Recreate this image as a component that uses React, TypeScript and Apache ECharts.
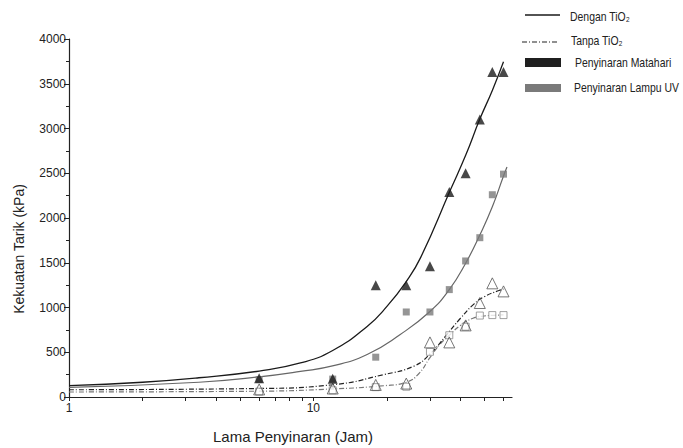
import React, { useEffect, useRef } from "react";
import * as echarts from "echarts";

// Measured data (hours of irradiation vs tensile strength, kPa)
const hours = [6, 12, 18, 24, 30, 36, 42, 48, 54, 60];
const sunTiO2 = [210, 205, 1250, 1250, 1460, 2290, 2500, 3100, 3630, 3630];
const uvTiO2 = [195, 200, 445, 950, 950, 1200, 1520, 1780, 2260, 2490];
const sunNoTiO2 = [85, 95, 135, 150, 610, 610, 800, 1050, 1270, 1180];
const uvNoTiO2 = [60, 75, 110, 115, 505, 690, 785, 910, 915, 915];

// Fitted curves
const sunFitX = [1, 2, 3.4, 6, 8.85, 12, 16.6, 20, 24, 27.5, 36.4, 42, 48, 54, 60];
const sunFitY = [126, 165, 215, 290, 380, 520, 789, 1012, 1290, 1560, 2315, 2700, 3105, 3425, 3745];
const uvFitX = [1, 3.4, 6, 8.85, 12.1, 16.6, 22.6, 30, 36, 42, 48, 54, 60, 62];
const uvFitY = [107, 165, 225, 286, 350, 475, 696, 956, 1200, 1495, 1810, 2125, 2470, 2570];
const sunNoFitX = [1, 6, 12, 19.4, 25.8, 30, 35, 40, 45.5, 50, 57.5, 60];
const sunNoFitY = [81, 95, 137, 250, 345, 480, 690, 880, 1040, 1120, 1190, 1205];
const uvNoFitX = [1, 6, 12, 19.4, 24, 27, 30, 33, 36, 40, 45, 50, 55, 60];
const uvNoFitY = [56, 65, 90, 126, 165, 260, 440, 590, 690, 800, 880, 905, 913, 918];

const xTicks = [1, 2, 3, 4, 5, 6, 7, 8, 9, 10, 20, 30, 40, 50, 60];
const xLabels = [1, 10];

const legendItems = ["Dengan TiO₂", "Tanpa TiO₂", "Penyinaran Matahari", "Penyinaran Lampu UV"];

const FONT = "'Liberation Sans', Arial, sans-serif";

const zip = (xs: number[], ys: number[]) => xs.map((x, i) => [x, ys[i]]);

export default function App() {
  const ref = useRef<HTMLDivElement>(null);
  useEffect(() => {
    const chart = echarts.init(ref.current!, null, { renderer: "svg" });
    const dashDot = [5, 2, 1, 2];
    const fitLine = (xs: number[], ys: number[], color: string, width: number, type: any) => ({
      type: "line",
      data: zip(xs, ys),
      smooth: 0.5,
      showSymbol: false,
      lineStyle: { color, width, type },
      z: 1,
    });
    const legendText = (text: string, x: number, y: number) => ({
      type: "text",
      x,
      y,
      scaleX: 0.87,
      style: { text, fontFamily: FONT, fontSize: 12, fill: "#222", verticalAlign: "middle" },
    });
    chart.setOption({
      animation: false,
      backgroundColor: "#fff",
      grid: { left: 69, right: 171, top: 39, bottom: 51 },
      xAxis: {
        type: "log",
        logBase: 10,
        min: 1,
        max: 65,
        axisLine: { show: true, lineStyle: { color: "#222", width: 1.2 } },
        axisTick: { show: true, inside: false, length: 4, customValues: xTicks, lineStyle: { color: "#222" } },
        axisLabel: {
          customValues: xLabels,
          color: "#222",
          fontFamily: FONT,
          fontSize: 12,
          margin: 5,
        },
        splitLine: { show: false },
        minorTick: { show: false },
      },
      yAxis: {
        type: "value",
        min: 0,
        max: 4000,
        interval: 500,
        axisLine: { show: true, lineStyle: { color: "#222", width: 1.2 } },
        axisTick: { show: true, length: 5, lineStyle: { color: "#222" } },
        minorTick: { show: true, splitNumber: 2, length: 3, lineStyle: { color: "#222" } },
        axisLabel: {
          color: "#222",
          fontFamily: FONT,
          fontSize: 12,
          margin: 3,
          formatter: (v: number) => String(v),
        },
        splitLine: { show: false },
      },
      series: [
        fitLine(uvNoFitX, uvNoFitY, "#777", 1.2, dashDot),
        fitLine(sunNoFitX, sunNoFitY, "#222", 1.2, dashDot),
        fitLine(uvFitX, uvFitY, "#666", 1.2, "solid"),
        fitLine(sunFitX, sunFitY, "#1a1a1a", 1.3, "solid"),
        {
          type: "scatter",
          data: zip(hours, uvNoTiO2),
          symbol: "rect",
          symbolSize: 7,
          itemStyle: { color: "#fff", borderColor: "#888", borderWidth: 1 },
          z: 3,
        },
        {
          type: "scatter",
          data: zip(hours, sunNoTiO2),
          symbol: "triangle",
          symbolSize: 11,
          itemStyle: { color: "rgba(255,255,255,0)", borderColor: "#555", borderWidth: 1 },
          z: 4,
        },
        {
          type: "scatter",
          data: zip(hours, uvTiO2),
          symbol: "rect",
          symbolSize: 7,
          itemStyle: { color: "#7a7a7a" },
          z: 5,
        },
        {
          type: "scatter",
          data: zip(hours, sunTiO2),
          symbol: "triangle",
          symbolSize: 10,
          itemStyle: { color: "#1a1a1a" },
          z: 6,
        },
      ],
      graphic: [
        {
          type: "text",
          x: 19,
          y: 249,
          rotation: Math.PI / 2,
          style: {
            text: "Kekuatan Tarik (kPa)",
            fontFamily: FONT,
            fontSize: 14,
            fill: "#222",
            align: "center",
            verticalAlign: "middle",
          },
        },
        {
          type: "text",
          x: 293,
          y: 436,
          style: {
            text: "Lama Penyinaran (Jam)",
            fontFamily: FONT,
            fontSize: 15,
            fill: "#222",
            align: "center",
            verticalAlign: "middle",
          },
        },
        { type: "line", shape: { x1: 525, y1: 15, x2: 560, y2: 15 }, style: { stroke: "#1a1a1a", lineWidth: 1.3 } },
        legendText(legendItems[0], 570, 17),
        {
          type: "line",
          shape: { x1: 522, y1: 42, x2: 558, y2: 42 },
          style: { stroke: "#222", lineWidth: 1.2, lineDash: dashDot },
        },
        legendText(legendItems[1], 571, 41),
        { type: "rect", shape: { x: 525, y: 58, width: 36, height: 9 }, style: { fill: "#1f1f1f" } },
        legendText(legendItems[2], 575, 63),
        { type: "rect", shape: { x: 525, y: 84, width: 36, height: 8 }, style: { fill: "#7a7a7a" } },
        legendText(legendItems[3], 574, 88),
      ],
    });
    return () => chart.dispose();
  }, []);
  return <div ref={ref} style={{ width: 683, height: 448, position: "absolute", left: 0, top: 0 }} />;
}
